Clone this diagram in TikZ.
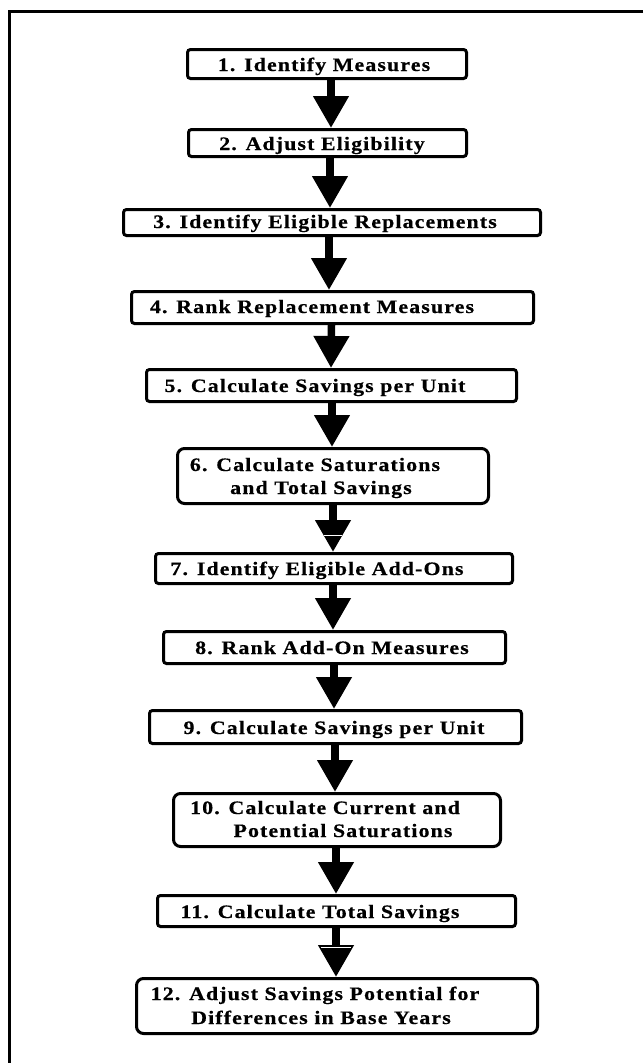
\documentclass[tikz,border=0pt]{standalone}
\usepackage{fontspec}
\usetikzlibrary{arrows.meta}
\newfontfamily\boxfont{Liberation Serif}[FakeStretch=1.15,LetterSpace=6,FakeBold=0.5]
\begin{document}
\begin{tikzpicture}[x=1pt,y=-1pt,
  stepbox/.style={draw,line width=3pt,rounded corners=3pt,inner sep=0pt},
  tallbox/.style={stepbox,rounded corners=7pt},
  lbl/.style={font=\boxfont\bfseries\fontsize{19}{23}\selectfont,inner sep=0pt,anchor=base},
  flow/.style={line width=7.5pt,-{Triangle[width=34pt,length=32pt]}},
  scan/.style={white,line width=1pt}]
\useasboundingbox (0,0) rectangle (643,1063);
\draw[line width=3pt] (643,11) -- (9,11) -- (9,1063);
% boxes
\node[stepbox,minimum width=279pt,minimum height=29pt] (b1) at (327,64) {};
\node[stepbox,minimum width=278pt,minimum height=27pt] (b2) at (327.5,143) {};
\node[stepbox,minimum width=417pt,minimum height=26pt] (b3) at (332,222.5) {};
\node[stepbox,minimum width=402pt,minimum height=32pt] (b4) at (332.5,307.5) {};
\node[stepbox,minimum width=370pt,minimum height=32pt] (b5) at (331.5,385.5) {};
\node[tallbox,minimum width=311pt,minimum height=55pt] (b6) at (333,476) {};
\node[stepbox,minimum width=357pt,minimum height=30pt] (b7) at (334,568.5) {};
\node[stepbox,minimum width=342pt,minimum height=32pt] (b8) at (334.5,647.5) {};
\node[stepbox,minimum width=372pt,minimum height=33pt] (b9) at (335.5,727) {};
\node[tallbox,minimum width=327pt,minimum height=53pt] (b10) at (337,820) {};
\node[stepbox,minimum width=358pt,minimum height=31pt] (b11) at (336.5,911) {};
\node[tallbox,minimum width=401pt,minimum height=55pt] (b12) at (337,1006) {};
% labels
\node[lbl] (t1) at (324,71) {1. Identify Measures};
\node[lbl] (t2) at (322,150) {2. Adjust Eligibility};
\node[lbl] (t3) at (325,228) {3. Identify Eligible Replacements};
\node[lbl] (t4) at (312,313) {4. Rank Replacement Measures};
\node[lbl] (t5) at (315,392) {5. Calculate Savings per Unit};
\node[lbl] (t6a) at (315,471) {6. Calculate Saturations};
\node[lbl] (t6b) at (321,494) {and Total Savings};
\node[lbl] (t7) at (317,575) {7. Identify Eligible Add-Ons};
\node[lbl] (t8) at (332,654) {8. Rank Add-On Measures};
\node[lbl] (t9) at (334,734) {9. Calculate Savings per Unit};
\node[lbl] (t10a) at (325,814) {10. Calculate Current and};
\node[lbl] (t10b) at (343,837) {Potential Saturations};
\node[lbl] (t11) at (320,918) {11. Calculate Total Savings};
\node[lbl] (t12a) at (315,1000) {12. Adjust Savings Potential for};
\node[lbl] (t12b) at (321,1024) {Differences in Base Years};
% arrows
\draw[flow] ([xshift=4pt]b1.south) -- ([xshift=3.5pt]b2.north);
\draw[flow] ([xshift=2.5pt]b2.south) -- ([xshift=-2pt]b3.north);
\draw[flow] ([xshift=-3pt]b3.south) -- ([xshift=-3.5pt]b4.north);
\draw[flow] ([xshift=-1pt]b4.south) -- ([xshift=-0.5pt]b5.north);
\draw[flow] ([xshift=0.5pt]b5.south) -- ([xshift=-1pt]b6.north);
\draw[flow] (b6.south) -- ([xshift=-1pt]b7.north);
\draw[flow] ([xshift=-1pt]b7.south) -- ([xshift=-1.5pt]b8.north);
\draw[flow] ([xshift=-0.5pt]b8.south) -- ([xshift=-1.5pt]b9.north);
\draw[flow] ([xshift=-0.5pt]b9.south) -- ([xshift=-2pt]b10.north);
\draw[flow] ([xshift=-1pt]b10.south) -- ([xshift=-0.5pt]b11.north);
\draw[flow] ([xshift=-0.5pt]b11.south) -- ([xshift=-1pt]b12.north);
% scan streaks across two arrowheads
\draw[scan] ([xshift=-10pt,yshift=17pt]b7.north) -- ([xshift=8pt,yshift=17pt]b7.north);
\draw[scan] ([xshift=-16pt,yshift=30pt]b12.north) -- ([xshift=14pt,yshift=30pt]b12.north);
\end{tikzpicture}
\end{document}
